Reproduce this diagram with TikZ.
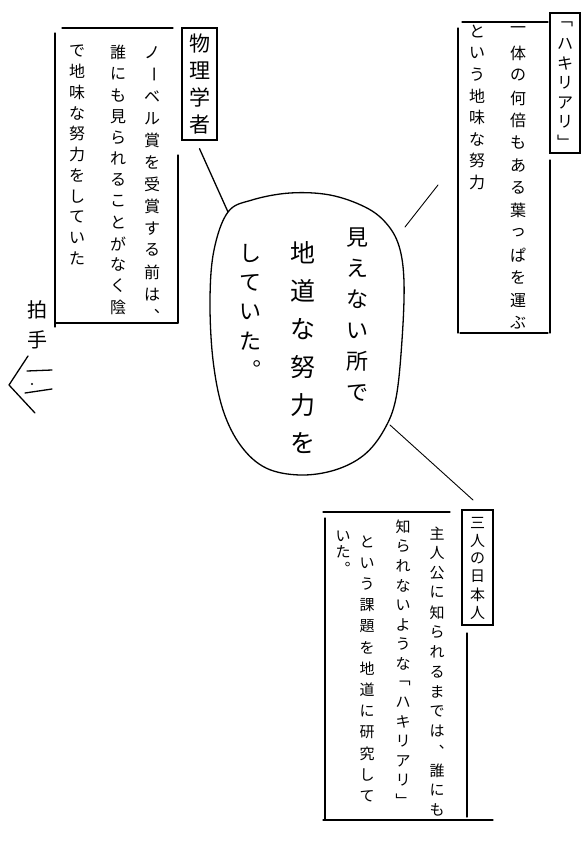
\documentclass[tikz,border=0pt]{standalone}
\usepackage{fontspec}
\usepackage{graphicx}
\setmainfont{Noto Sans CJK JP}
\newdimen\vstep
\def\vstackend{VSTACKENDMARK}
\def\vstackloop#1{\ifx\vstackend#1\else\hbox to 1.3em{\hss\vbox to\vstep{\vss\hbox{#1}\vss}\hss}\expandafter\vstackloop\fi}
\newcommand\vcol[2]{{\vstep=#1\relax\vbox{\offinterlineskip\vstackloop#2\vstackend}}}
\newcommand\VR[1]{\rotatebox[origin=c]{-90}{#1}}
\newcommand\fs[1]{\fontsize{#1}{#1}\selectfont}
\tikzset{
  col/.style={inner sep=0pt, anchor=north},
  tag/.style={draw, line width=1.3pt, inner sep=0pt},
  ln/.style={line width=1.3pt, line cap=round, line join=round},
  thinln/.style={line width=0.9pt, line cap=round},
}
\begin{document}
\begin{tikzpicture}[x=1pt,y=-1pt]
\fill[white] (0,0) rectangle (588,848);
\useasboundingbox (0,0) rectangle (588,848);

% ---- top right: ハキリアリ ----
\node[tag, minimum width=30pt, minimum height=140pt, font=\fs{16}] (tagH) at (565,83) {\vcol{19.5pt}{﹁ハキリアリ﹂}};
\draw[ln] (462,22) -- (548,22);
\draw[ln] (458,28) -- (458,333);
\draw[ln] (550,160) -- (550,333);
\draw[ln] (460,333) -- (548,333);
\node[col, font=\fs{16}] (h1) at (518,19) {\vcol{22.5pt}{一体の何倍もある葉っぱを運ぶ}};
\node[col, font=\fs{16}] (h2) at (477,21) {\vcol{21.5pt}{という地味な努力}};

% ---- top left: 物理学者 ----
\node[tag, minimum width=35pt, minimum height=112pt, font=\fs{21}] (tagP) at (199.5,84) {\vcol{27pt}{物理学者}};
\draw[ln] (62,28) -- (173,28);
\draw[ln] (55,33) -- (55,327);
\draw[ln] (55,323) -- (178,323);
\draw[ln] (178,155) -- (178,323);
\node[col, font=\fs{16}] (p1) at (152,41) {\vcol{22pt}{ノ{\VR{ー}}ベル賞を受賞する前は︑}};
\node[col, font=\fs{16}] (p2) at (118,42) {\vcol{21.2pt}{誰にも見られることがなく陰}};
\node[col, font=\fs{16}] (p3) at (77,40) {\vcol{20.8pt}{で地味な努力をしていた}};

% ---- center bubble ----
\draw[ln] plot[smooth cycle, tension=0.6] coordinates {
  (228,212) (252,200) (290,193) (330,195) (365,207) (386,223) (399,246)
  (404,282) (402,340) (396,398) (384,430) (364,455) (335,470) (300,475)
  (266,468) (241,446) (223,410) (213,360) (210,300) (214,250)};
\node[col, font=\fs{22}] (c1) at (357,222) {\vcol{31pt}{見えない所で}};
\node[col, font=\fs{25}] (c2) at (303,234) {\vcol{38pt}{地道な努力を}};
\node[col, font=\fs{22}] (c3) at (250,239) {\vcol{29pt}{していた︒}};

% ---- connectors ----
\coordinate (bTL) at (228,212);
\coordinate (hA) at (438,185);
\coordinate (hB) at (405,227);
\coordinate (bBR) at (390,425);
\coordinate (nA) at (473,500);
\draw[ln] ([yshift=-8pt]tagP.south) -- (bTL);
\draw[thinln] (hA) -- (hB);
\draw[thinln] (bBR) -- (nA);

% ---- bottom right: 三人の日本人 ----
\node[tag, minimum width=31pt, minimum height=115pt, font=\fs{15}] (tagN) at (477.5,567.5) {\vcol{18pt}{三人の日本人}};
\draw[ln] (323,512) -- (450,512);
\draw[ln] (325,518) -- (325,820);
\draw[ln] (323,820) -- (493,820);
\draw[ln] (467,633) -- (467,817);
\node[col, font=\fs{15}] (n1) at (437,523) {\vcol{19.8pt}{主人公に知られるまでは︑誰にも}};
\node[col, font=\fs{15}] (n2) at (403,517) {\vcol{19.5pt}{知られないような﹁ハキリアリ﹂}};
\node[col, font=\fs{15}] (n3) at (367,531) {\vcol{21.2pt}{という課題を地道に研究して}};
\node[col, font=\fs{15}] (n4) at (343,528) {\vcol{16pt}{いた︒}};

% ---- left: 拍手 ----
\node[col, font=\fs{20}] (hk) at (37,295) {\vcol{30pt}{拍手}};
\coordinate (k1) at (28,356);
\coordinate (k2) at (9,385);
\coordinate (k3) at (35,413);
\draw[ln] (k1) -- (k2) -- (k3);
\draw[ln] (27,371) -- (52,370);
\draw[ln] (25,393) -- (52,389);
\fill (32,384) circle (1.2pt);
\end{tikzpicture}
\end{document}
